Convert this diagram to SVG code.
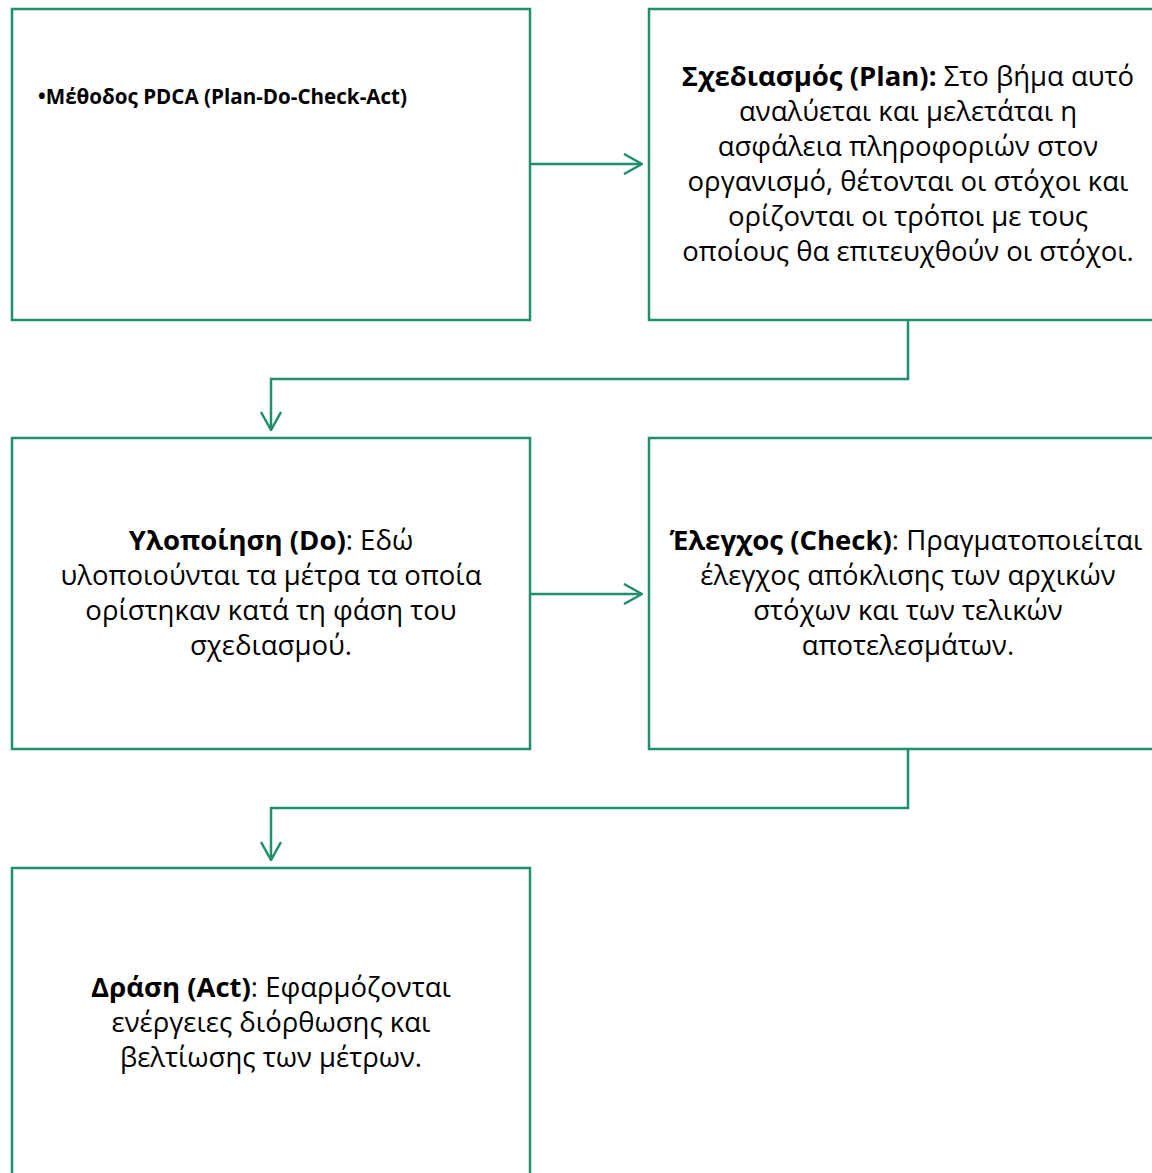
<svg xmlns="http://www.w3.org/2000/svg" width="1152" height="1173" viewBox="0 0 1152 1173">
<style>
.box{fill:#ffffff;stroke:#1f8f6c;stroke-width:2.5}
.conn{fill:none;stroke:#1f8f6c;stroke-width:2.5}
.t{font-family:"Open Sans","Noto Sans","Liberation Sans",sans-serif;font-size:27.5px;fill:#000;text-anchor:middle}
.b{font-weight:bold}
.title{font-family:"Open Sans","Noto Sans","Liberation Sans",sans-serif;font-size:20.6px;font-weight:bold;fill:#000}
</style>
<defs>
<marker id="arr" viewBox="0 0 20 22" refX="19" refY="11" markerWidth="20" markerHeight="22" markerUnits="userSpaceOnUse" orient="auto">
<path d="M1,1 L19,11 L1,21" fill="none" stroke="#1f8f6c" stroke-width="2.5"/>
</marker>
</defs>
<rect width="1152" height="1173" fill="#ffffff"/>
<g id="connectors">
<path class="conn" d="M530,164 L642,164" marker-end="url(#arr)"/>
<path class="conn" d="M908,320 L908,379 L271,379 L271,430" marker-end="url(#arr)"/>
<path class="conn" d="M530,594 L642,594" marker-end="url(#arr)"/>
<path class="conn" d="M908,749 L908,808 L271,808 L271,860" marker-end="url(#arr)"/>
</g>
<g id="node-pdca">
<rect class="box" x="12" y="9" width="518" height="311"/>
<text class="title" x="38" y="104">•Μέθοδος PDCA (Plan-Do-Check-Act)</text>
</g>
<g id="node-plan">
<rect class="box" x="649" y="9" width="520" height="311"/>
<text class="t" x="908" y="86"><tspan class="b">Σχεδιασμός (Plan):</tspan> Στο βήμα αυτό</text>
<text class="t" x="908" y="121">αναλύεται και μελετάται η</text>
<text class="t" x="908" y="156">ασφάλεια πληροφοριών στον</text>
<text class="t" x="908" y="191">οργανισμό, θέτονται οι στόχοι και</text>
<text class="t" x="908" y="226">ορίζονται οι τρόποι με τους</text>
<text class="t" x="908" y="261">οποίους θα επιτευχθούν οι στόχοι.</text>
</g>
<g id="node-do">
<rect class="box" x="12" y="438" width="518" height="311"/>
<text class="t" x="271" y="550"><tspan class="b">Υλοποίηση (Do)</tspan>: Εδώ</text>
<text class="t" x="271" y="585">υλοποιούνται τα μέτρα τα οποία</text>
<text class="t" x="271" y="620">ορίστηκαν κατά τη φάση του</text>
<text class="t" x="271" y="655">σχεδιασμού.</text>
</g>
<g id="node-check">
<rect class="box" x="649" y="438" width="520" height="311"/>
<text class="t" x="906" y="550"><tspan class="b">Έλεγχος (Check)</tspan>: Πραγματοποιείται</text>
<text class="t" x="908" y="585">έλεγχος απόκλισης των αρχικών</text>
<text class="t" x="908" y="620">στόχων και των τελικών</text>
<text class="t" x="908" y="655">αποτελεσμάτων.</text>
</g>
<g id="node-act">
<rect class="box" x="12" y="868" width="518" height="320"/>
<text class="t" x="271" y="997"><tspan class="b">Δράση (Act)</tspan>: Εφαρμόζονται</text>
<text class="t" x="271" y="1032">ενέργειες διόρθωσης και</text>
<text class="t" x="271" y="1067">βελτίωσης των μέτρων.</text>
</g>
</svg>
